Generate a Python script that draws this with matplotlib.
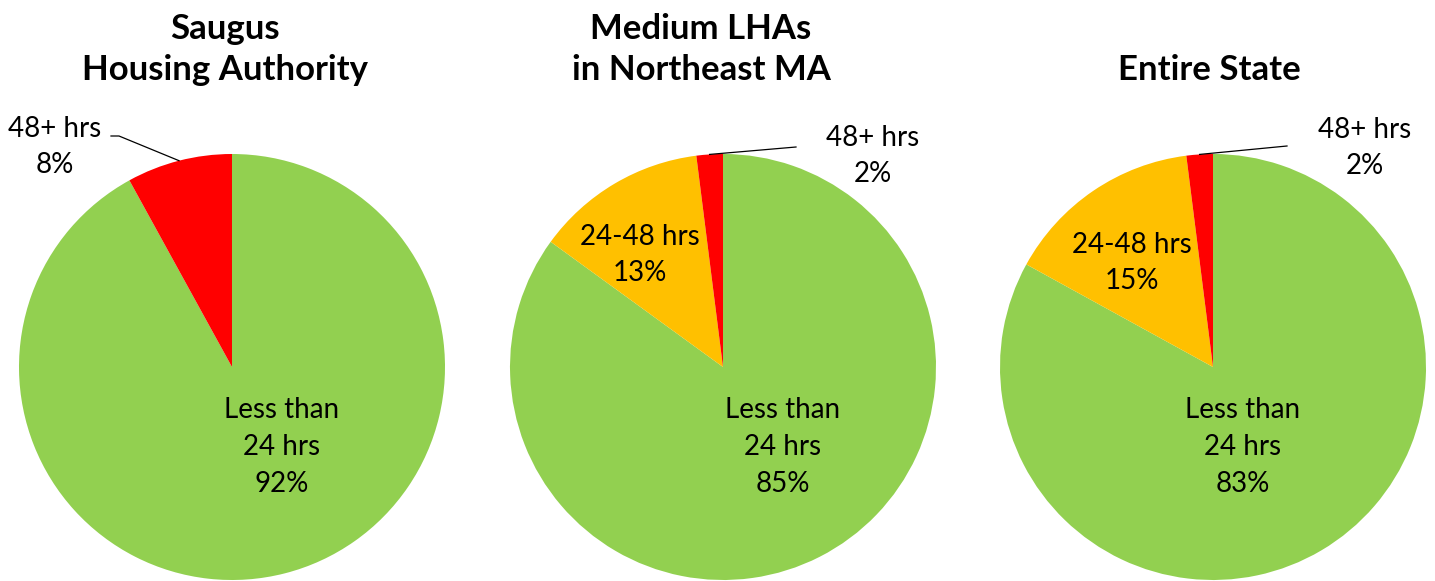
import numpy as np
import matplotlib.pyplot as plt

plt.rcParams['font.family'] = ['Lato', 'DejaVu Sans']

# data
titles = ['Saugus\nHousing Authority', 'Medium LHAs\nin Northeast MA', 'Entire State']
categories = ['Less than\n24 hrs', '24-48 hrs', '48+ hrs']
saugus = [92, 0, 8]
medium_ne = [85, 13, 2]
state = [83, 15, 2]
series = [saugus, medium_ne, state]

colors = ['#92D050', '#FFC000', '#FF0000']

W, H = 1435, 581
R = 213
centers = [(232, 367), (723, 367), (1213, 367)]

# label offsets in pixels from pie centre (inside labels) and outside label spots
inner_off = [{0: (50, -80)}, {0: (60, -80), 1: (-83, 112)}, {0: (30, -80), 1: (-81, 104)}]
outer_text = [(-177, 220), (150, 211), (152, 219)]
outer_anchor = [(-113, 231), (73, 220), (74, 221)]
title_x = [225, 701, 1209]

fig = plt.figure(figsize=(W / 100, H / 100), dpi=100)

for k, vals in enumerate(series):
    cx, cy = centers[k]
    ax = fig.add_axes([(cx - R) / W, (H - cy - R) / H, 2 * R / W, 2 * R / H])
    wedges, _ = ax.pie(vals, colors=colors, startangle=90, counterclock=False,
                       radius=1, wedgeprops=dict(linewidth=0))
    ax.set_xlim(-1, 1)
    ax.set_ylim(-1, 1)
    ax.set_aspect('equal')
    ax.axis('off')

    for i, (dx, dy) in inner_off[k].items():
        ax.text(dx / R, dy / R, f'{categories[i]}\n{vals[i]}%', ha='center', va='center',
                fontsize=20, linespacing=1.5, color='black')

    # 48+ outside label with leader line
    w = wedges[2]
    mid = np.deg2rad((w.theta1 + w.theta2) / 2)
    px, py = np.cos(mid), np.sin(mid)
    tx, ty = outer_text[k]
    axx, axy = outer_anchor[k]
    ax.text(tx / R, ty / R, f'{categories[2]}\n{vals[2]}%', ha='center', va='center',
            fontsize=20, linespacing=1.5, color='black', clip_on=False)
    if k == 0:
        xs = [px, axx / R, (axx - 8) / R]
        ys = [py, axy / R, axy / R]
    else:
        xs = [px, axx / R]
        ys = [py, axy / R]
    ax.plot(xs, ys, color='black', linewidth=0.9, clip_on=False)

    fig.text(title_x[k] / W, 1 - 86 / H, titles[k], ha='center', va='bottom',
             fontsize=25, fontweight='bold', linespacing=1.35)

fig.savefig('out.png', dpi=100)
